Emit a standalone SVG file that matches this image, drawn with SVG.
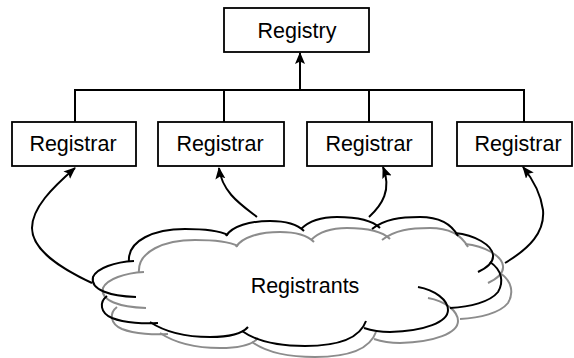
<svg xmlns="http://www.w3.org/2000/svg" width="574" height="358" viewBox="0 0 574 358">
<style>
.box{fill:#fff;stroke:#000;stroke-width:1.8}
.lbl{font-family:"Liberation Sans",Arial,sans-serif;font-size:21.5px;fill:#000;text-anchor:middle}
.ln{fill:none;stroke:#000;stroke-width:2}
.cb{fill:none;stroke:#000;stroke-width:2}
.cg{fill:none;stroke:#8c8c8c;stroke-width:2}
</style>
<defs>
<marker id="ah" markerUnits="userSpaceOnUse" markerWidth="14" markerHeight="12" refX="11" refY="5" orient="auto">
<path d="M0,0 L12,5 L0,10 L2.5,5 z" fill="#000"/>
</marker>
</defs>
<rect width="574" height="358" fill="#fff"/>
<g id="connectors">
<path class="ln" d="M75,122 V90 H524 V122"/>
<path class="ln" d="M224,122 V90"/>
<path class="ln" d="M369,122 V90"/>
<path class="ln" d="M300,90 V53" marker-end="url(#ah)"/>
<path class="ln" d="M92,283 C60,268 32,250 32,228 C32,208 52,188 75,168" marker-end="url(#ah)"/>
<path class="ln" d="M257,217 C240,204 222,192 219,168" marker-end="url(#ah)"/>
<path class="ln" d="M369,217 C382,205 392,190 383,167" marker-end="url(#ah)"/>
<path class="ln" d="M505,263 C530,248 545,232 543,210 C541,195 535,182 523,167" marker-end="url(#ah)"/>
</g>
<g id="registry">
<rect class="box" x="224" y="8" width="145" height="44"/>
<text class="lbl" x="297" y="38">Registry</text>
</g>
<g id="registrar1">
<rect class="box" x="12" y="122" width="124" height="44"/>
<text class="lbl" x="73" y="151">Registrar</text>
</g>
<g id="registrar2">
<rect class="box" x="158" y="122" width="126" height="44"/>
<text class="lbl" x="220" y="151">Registrar</text>
</g>
<g id="registrar3">
<rect class="box" x="307" y="122" width="125" height="44"/>
<text class="lbl" x="369" y="151">Registrar</text>
</g>
<g id="registrar4">
<rect class="box" x="457" y="122" width="115" height="44"/>
<text class="lbl" x="518" y="151">Registrar</text>
</g>
<g id="registrants">
<g transform="translate(10,11)">
<path class="cg" d="M129,262 C127,240 155,229 185,229 C205,229 220,231 228,235"/>
<path class="cg" d="M226,236 C232,226 250,221 270,221 C288,221 298,225 304,231"/>
<path class="cg" d="M301,229 C310,220 322,217 337,217 C355,217 372,220 380,228"/>
<path class="cg" d="M372,229 C385,219 400,217 420,217 C440,217 452,225 458,236"/>
<path class="cg" d="M455,233 C475,235 492,245 493,255 C494,263 486,268 478,272"/>
<path class="cg" d="M490,262 C502,270 504,282 498,292 C490,302 470,307 450,308"/>
<path class="cg" d="M418,287 C435,290 448,300 448,310 C448,322 425,331 390,332 C378,332 370,330 364,328"/>
<path class="cg" d="M366,321 C360,338 338,346 305,346 C275,346 256,341 242,331"/>
<path class="cg" d="M150,322 C165,332 185,337 210,337 C230,337 242,334 248,327"/>
<path class="cg" d="M107,296 C99,302 100,313 112,318 C125,323 145,324 158,323"/>
<path class="cg" d="M134,261 C115,262 97,268 93,277 C90,290 110,296 136,297"/>
</g>
<path class="cb" d="M129,262 C127,240 155,229 185,229 C205,229 220,231 228,235"/>
<path class="cb" d="M226,236 C232,226 250,221 270,221 C288,221 298,225 304,231"/>
<path class="cb" d="M301,229 C310,220 322,217 337,217 C355,217 372,220 380,228"/>
<path class="cb" d="M372,229 C385,219 400,217 420,217 C440,217 452,225 458,236"/>
<path class="cb" d="M455,233 C475,235 492,245 493,255 C494,263 486,268 478,272"/>
<path class="cb" d="M490,262 C502,270 504,282 498,292 C490,302 470,307 450,308"/>
<path class="cb" d="M418,287 C435,290 448,300 448,310 C448,322 425,331 390,332 C378,332 370,330 364,328"/>
<path class="cb" d="M366,321 C360,338 338,346 305,346 C275,346 256,341 242,331"/>
<path class="cb" d="M150,322 C165,332 185,337 210,337 C230,337 242,334 248,327"/>
<path class="cb" d="M107,296 C99,302 100,313 112,318 C125,323 145,324 158,323"/>
<path class="cb" d="M134,261 C115,262 97,268 93,277 C90,290 110,296 136,297"/>
<text class="lbl" x="305" y="293">Registrants</text>
</g>
</svg>
